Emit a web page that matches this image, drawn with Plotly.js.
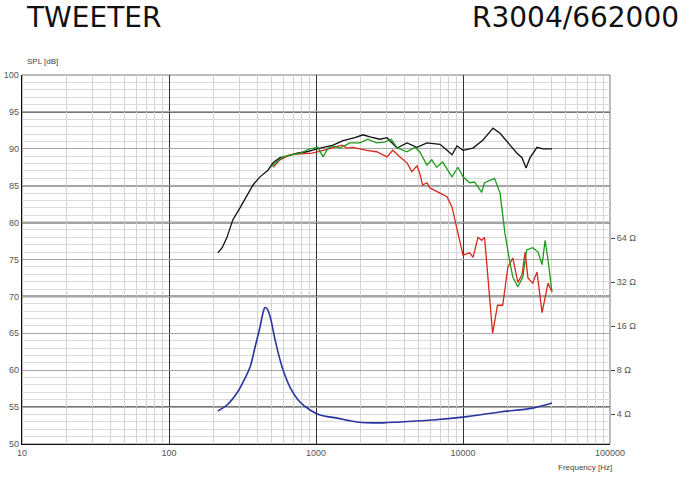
<!DOCTYPE html>
<html>
<head>
<meta charset="utf-8">
<script src="https://cdn.plot.ly/plotly-3.0.1.min.js"></script>
<style>
html,body{margin:0;padding:0;background:#fff;}
#chart{width:700px;height:494px;}
</style>
</head>
<body>
<div id="chart"></div>
<script>
// ---- Data ----
const freqBlack = [215,230,248,272,304,339,373,416,471,510,569,635,743,868,1016,1306,1528,1841,2088,2328,2723,3040,3556,4159,4863,5687,6977,7788,8420,9107,10000,11700,13680,16000,17860,20890,23300,25190,26840,28590,31880,35020,40290];
const splBlack  = [75.9,76.6,78.0,80.4,82.0,83.7,85.1,86.2,87.1,88.1,88.8,89.0,89.4,89.6,90.0,90.5,91.1,91.5,91.9,91.6,91.3,91.5,90.1,90.8,90.2,90.8,90.6,89.8,89.2,90.4,89.8,90.1,91.2,92.8,92.1,90.5,89.4,88.8,87.4,88.8,90.2,90.0,90.0];

const freqGreen = [490,593,696,778,910,1030,1117,1208,1306,1456,1700,1987,2250,2586,2923,3255,3573,4159,4700,5075,5687,6137,6622,7262,8420,9237,10000,11100,12000,13390,14020,16400,17860,19270,20890,21840,23600,25500,27100,29800,32400,34500,36200,37900,40290];
const splGreen  = [87.5,88.9,89.2,89.4,90.0,90.2,88.9,90.1,90.4,90.1,90.8,90.8,91.3,90.8,90.9,91.3,90.1,89.6,90.2,89.6,87.8,88.5,87.5,88.2,86.2,87.5,86.2,85.4,85.5,84.1,85.4,86.0,84.0,78.6,74.5,72.6,71.3,72.6,76.3,76.6,76.0,74.3,77.6,74.9,70.6];

const freqRed = [510,569,667,778,944,1117,1306,1500,1625,1782,2213,2586,3040,3332,3726,4159,4489,4863,5075,5312,5687,5955,6977,7788,8420,8830,9550,10000,11100,11700,12650,13390,14020,15900,17170,18630,20200,21840,23600,25190,26470,27650,29800,31880,34500,37900,40290];
const splRed  = [87.5,88.5,89.2,89.3,89.4,89.8,90.2,90.5,90.1,90.2,89.8,89.6,88.9,89.8,88.9,88.1,86.9,87.7,86.7,85.1,85.4,84.7,84.0,83.5,82.1,80.4,77.6,75.6,75.9,75.3,78.0,77.6,78.0,65.0,68.8,68.8,74.0,75.2,71.9,72.9,76.0,72.5,71.8,73.3,67.8,71.8,70.6];

const freqImp = [215,248,290,319,356,385,416,435,450,465,488,527,588,665,778,910,1065,1389,1900,2856,3726,6252,10000,17860,29800,40290];
const impOhm  = [4.19,4.61,5.57,6.62,8.39,11.49,15.75,19.5,21.4,21.0,18.44,12.83,8.39,6.12,4.83,4.26,3.94,3.75,3.53,3.48,3.53,3.64,3.81,4.13,4.39,4.75];

const xMajorTicks = [10,100,1000,10000,100000];
const xMajorLabels = ['10','100','1000','10000','100000'];
const yTicks = [50,55,60,65,70,75,80,85,90,95,100];
const impTicks = [4,8,16,32,64];
const impLabels = ['4 Ω','8 Ω','16 Ω','32 Ω','64 Ω'];
const darkYLines = [55,70,80,85,95];
const darkXLines = [100,1000,10000];

// minor x grid values (2..9 per decade)
const minorMult = [2,3,4,5,6,7,8,9];
const decades = [10,100,1000,10000];
const xMinor = [];
decades.forEach(d => minorMult.forEach(m => xMinor.push(d*m)));

const lineW = 1.3;
const traces = [
  {x:freqBlack, y:splBlack, type:'scatter', mode:'lines', line:{color:'#111111', width:lineW}, xaxis:'x', yaxis:'y'},
  {x:freqRed, y:splRed, type:'scatter', mode:'lines', line:{color:'#d8281c', width:lineW}, xaxis:'x', yaxis:'y'},
  {x:freqGreen, y:splGreen, type:'scatter', mode:'lines', line:{color:'#1e9a1e', width:lineW}, xaxis:'x', yaxis:'y'},
  {x:freqImp, y:impOhm, type:'scatter', mode:'lines', line:{color:'#2a35a0', width:1.6, shape:'spline'}, xaxis:'x', yaxis:'y2'}
];

const shapes = [];
darkYLines.forEach(v => shapes.push({type:'line', xref:'paper', yref:'y', x0:0, x1:1, y0:v, y1:v, layer:'between', line:{color:'#4a4a4a', width:1.6}}));
// shapes on a log axis take log10 coordinates
darkXLines.forEach(v => shapes.push({type:'line', xref:'x', yref:'paper', x0:Math.log10(v), x1:Math.log10(v), y0:0, y1:1, layer:'between', line:{color:'#222', width:1.3}}));
// frame
shapes.push({type:'rect', xref:'paper', yref:'paper', x0:0, x1:1, y0:0, y1:1, layer:'between', line:{color:'#777', width:1}});

const tickFont = {family:'Liberation Sans, Arial, sans-serif', size:9, color:'#555'};

const layout = {
  width:700, height:494,
  margin:{l:22, r:90, t:75, b:50},
  paper_bgcolor:'#fff', plot_bgcolor:'#fff',
  showlegend:false,
  xaxis:{
    type:'log', range:[1,5],
    tickvals:xMajorTicks, ticktext:xMajorLabels,
    tickfont:tickFont, ticks:'',
    showgrid:true, gridcolor:'#333', gridwidth:1,
    minor:{tickvals:xMinor, showgrid:true, gridcolor:'#d4d4d4', gridwidth:1, ticks:''},
    showline:true, linecolor:'#111', linewidth:1.3, mirror:false,
    zeroline:false, fixedrange:true
  },
  yaxis:{
    range:[50,100],
    tickvals:yTicks, tickfont:tickFont, ticks:'',
    showgrid:true, gridcolor:'#a6a6a6', gridwidth:1,
    minor:{dtick:1, showgrid:true, gridcolor:'#dadada', gridwidth:1, ticks:''},
    showline:true, linecolor:'#111', linewidth:1.3,
    zeroline:false, fixedrange:true
  },
  yaxis2:{
    type:'log', overlaying:'y', side:'right',
    range:[0.3968, 2.9215],
    tickvals:impTicks, ticktext:impLabels,
    tickfont:tickFont, ticks:'outside', ticklen:4, tickcolor:'#444',
    showgrid:false, showline:false, zeroline:false, fixedrange:true
  },
  shapes:shapes,
  annotations:[
    {text:'TWEETER', xref:'paper', yref:'paper', x:0.003, y:1 + (75-17)/369, xanchor:'left', yanchor:'middle', showarrow:false,
     font:{family:'DejaVu Sans, Verdana, sans-serif', size:28, color:'#111'}},
    {text:'R3004/662000', xref:'paper', yref:'paper', x:(681-22)/588, y:1 + (75-17)/369, xanchor:'right', yanchor:'middle', showarrow:false,
     font:{family:'DejaVu Sans, Verdana, sans-serif', size:28, color:'#111'}},
    {text:'SPL [dB]', xref:'paper', yref:'paper', x:0, xshift:3, y:1 + (75-62)/369, xanchor:'left', yanchor:'middle', showarrow:false,
     font:{family:'Liberation Sans, Arial, sans-serif', size:8, color:'#444'}},
    {text:'Frequency [Hz]', xref:'paper', yref:'paper', x:1, xshift:4, y:-(468-444)/369, xanchor:'right', yanchor:'middle', showarrow:false,
     font:{family:'Liberation Sans, Arial, sans-serif', size:8, color:'#444'}}
  ]
};

Plotly.newPlot('chart', traces, layout, {staticPlot:true, displayModeBar:false});
</script>
</body>
</html>
